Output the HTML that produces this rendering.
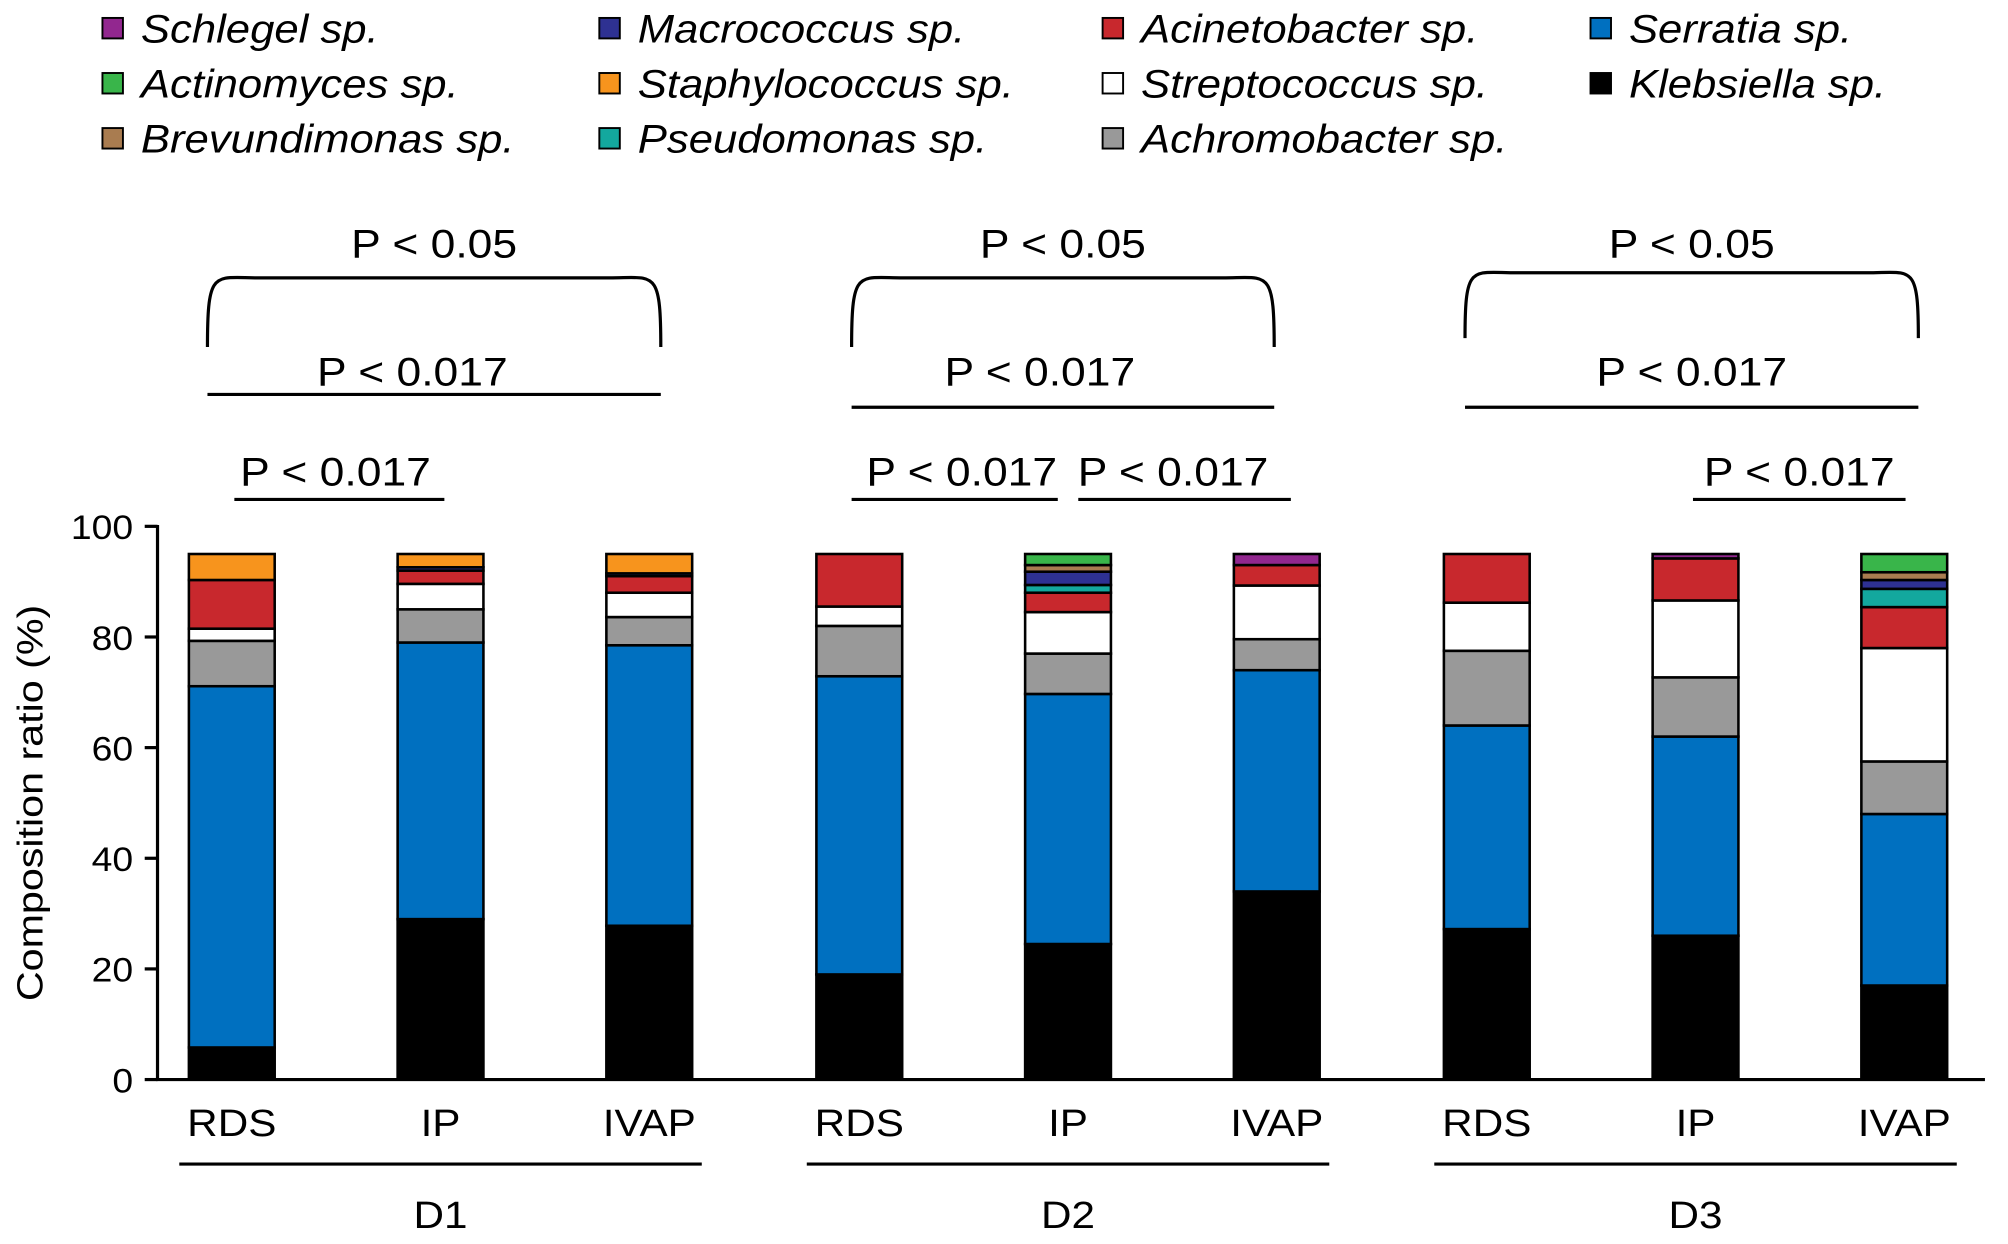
<!DOCTYPE html>
<html><head><meta charset="utf-8"><style>
html,body{margin:0;padding:0;background:#fff;}
svg{display:block;font-family:"Liberation Sans",Arial,sans-serif;}
</style></head><body>
<svg id="chart" width="2008" height="1244" viewBox="0 0 1568 971.4" xmlns="http://www.w3.org/2000/svg"></svg>
<script>
const groups = ["RDS","IP","IVAP","RDS","IP","IVAP","RDS","IP","IVAP"];
const days = ["D1","D2","D3"];
const yTicks = [0,20,40,60,80,100];
const klebsiella = [5.8,29,27.8,19,24.5,34,27.2,26,17];
const serratia = [65.3,50,50.7,53.9,45.2,40,36.8,36,31];
const achromobacter = [8.2,6,5.1,9.1,7.3,5.6,13.5,10.7,9.5];
const streptococcus = [2.2,4.6,4.4,3.5,7.5,9.7,8.7,13.9,20.5];
const acinetobacter = [8.8,2.4,3,9.5,3.5,3.7,8.8,7.6,7.4];
const pseudomonas = [0,0,0,0,1.4,0,0,0,3.3];
const macrococcus = [0,0.6,0.5,0,2.4,0,0,0,1.6];
const brevundimonas = [0,0,0,0,1.2,0,0,0,1.4];
const actinomyces = [0,0,0,0,2,0,0,0,3.3];
const staphylococcus = [4.7,2.4,3.5,0,0,0,0,0,0];
const schlegel = [0,0,0,0,0,2,0,0.8,0];

const NS="http://www.w3.org/2000/svg";
const svg=document.getElementById('chart');
function el(tag,attrs,parent){const e=document.createElementNS(NS,tag);for(const k in attrs)e.setAttribute(k,attrs[k]);(parent||svg).appendChild(e);return e;}
function stxt(s,x,y,size,sx,anchor,extra,parent){
  const a=Object.assign({x:0,y:0,'font-size':size,'text-anchor':anchor||'start',transform:`translate(${x},${y}) scale(${sx},1)`},extra||{});
  const t=el('text',a,parent);t.textContent=s;return t;
}

const y0=843,y100=411;
function yScale(v){return y0-(v/100)*(y0-y100);}
const xStart=181,xStep=163,gGap=490;
function xScale(i){return xStart+Math.floor(i/3)*gGap+(i%3)*xStep;}
const barW=67;

const series=[
 ["klebsiella","Klebsiella sp.","#000000",klebsiella],
 ["serratia","Serratia sp.","#0070c0",serratia],
 ["achromobacter","Achromobacter sp.","#999999",achromobacter],
 ["streptococcus","Streptococcus sp.","#ffffff",streptococcus],
 ["acinetobacter","Acinetobacter sp.","#c8282d",acinetobacter],
 ["pseudomonas","Pseudomonas sp.","#13a89e",pseudomonas],
 ["macrococcus","Macrococcus sp.","#2e3192",macrococcus],
 ["brevundimonas","Brevundimonas sp.","#a97c50",brevundimonas],
 ["actinomyces","Actinomyces sp.","#39b54a",actinomyces],
 ["staphylococcus","Staphylococcus sp.","#f7941d",staphylococcus],
 ["schlegel","Schlegel sp.","#92278f",schlegel]
];

const legendLayout=[["schlegel",80,22],["macrococcus",468,22],["acinetobacter",861,22],["serratia",1242,22],
["actinomyces",80,65],["staphylococcus",468,65],["streptococcus",861,65],["klebsiella",1242,65],
["brevundimonas",80,108],["pseudomonas",468,108],["achromobacter",861,108]];
const legend=el('g',{});


legendLayout.forEach(([key,x,y])=>{
  const s=series.find(q=>q[0]===key);
  const g=el('g',{},legend);
  
  
  el('rect',{x:x,y:y-8,width:16,height:16,fill:s[2],stroke:'#000','stroke-width':1.5},g);
  stxt(s[1],x+30,y+11,31,1.1,'start',{'font-style':'italic'},g);
});

const axes=el('g',{});


el('line',{x1:123,y1:y100-1,x2:123,y2:y0+1,stroke:'#000','stroke-width':2.5},axes);
el('line',{x1:122,y1:y0,x2:1550,y2:y0,stroke:'#000','stroke-width':2.5},axes);
yTicks.forEach(v=>{
  const y=yScale(v);
  el('line',{x1:113,y1:y,x2:123,y2:y,stroke:'#000','stroke-width':2.5},axes);
  const t=stxt(String(v),104,y+10,27,1.08,'end',{},axes);
  
  
});
const yt=el('text',{x:0,y:0,'font-size':28,'text-anchor':'middle',transform:'translate(33,627) rotate(-90) scale(1.15,1)'},axes);
yt.textContent='Composition ratio (%)';



groups.forEach((g,i)=>{
  let cum=0;
  const bg=el('g',{});
  
  
  series.forEach(s=>{
    const v=s[3][i];
    if(v>0){
      const r=el('rect',{x:xScale(i)-barW/2,y:yScale(cum+v),width:barW,height:yScale(cum)-yScale(cum+v),fill:s[2],stroke:'#000','stroke-width':2},bg);
      
      
    }
    cum+=v;
  });
  const t=stxt(g,xScale(i),887,30,1.1,'middle');
  
  
});
days.forEach((d,k)=>{
  const c=xScale(k*3+1);
  el('line',{x1:c-204,y1:909,x2:c+204,y2:909,stroke:'#000','stroke-width':2.5});
  const t=stxt(d,c,959,30,1.1,'middle');
  
  
});

const sig=el('g',{});


function arc(x1,x2,yb,yt){
  el('path',{d:`M${x1},${yb} C${x1},${yt-8} ${x1+5},${yt} ${x1+40},${yt} L${x2-40},${yt} C${x2-5},${yt} ${x2},${yt-8} ${x2},${yb}`,fill:'none',stroke:'#000','stroke-width':2.5},sig);
}
function hline(x1,x2,y){el('line',{x1:x1,y1:y,x2:x2,y2:y,stroke:'#000','stroke-width':2.5},sig);}
function label(s,x,y){stxt(s,x,y,31,1.12,'middle',{},sig);}
arc(162,516,271,217); label('P < 0.05',339,201);
hline(162,516,308); label('P < 0.017',322,301);
hline(183,347,390); label('P < 0.017',262,379);
arc(665,995,271,217); label('P < 0.05',830,201);
hline(665,995,318); label('P < 0.017',812,301);
hline(665,826,390); label('P < 0.017',751,379);
hline(842,1008,390); label('P < 0.017',916,379);
arc(1144,1498,264,213); label('P < 0.05',1321,201);
hline(1144,1498,318); label('P < 0.017',1321,301);
hline(1322,1488,390); label('P < 0.017',1405,379);
</script>
</body></html>
